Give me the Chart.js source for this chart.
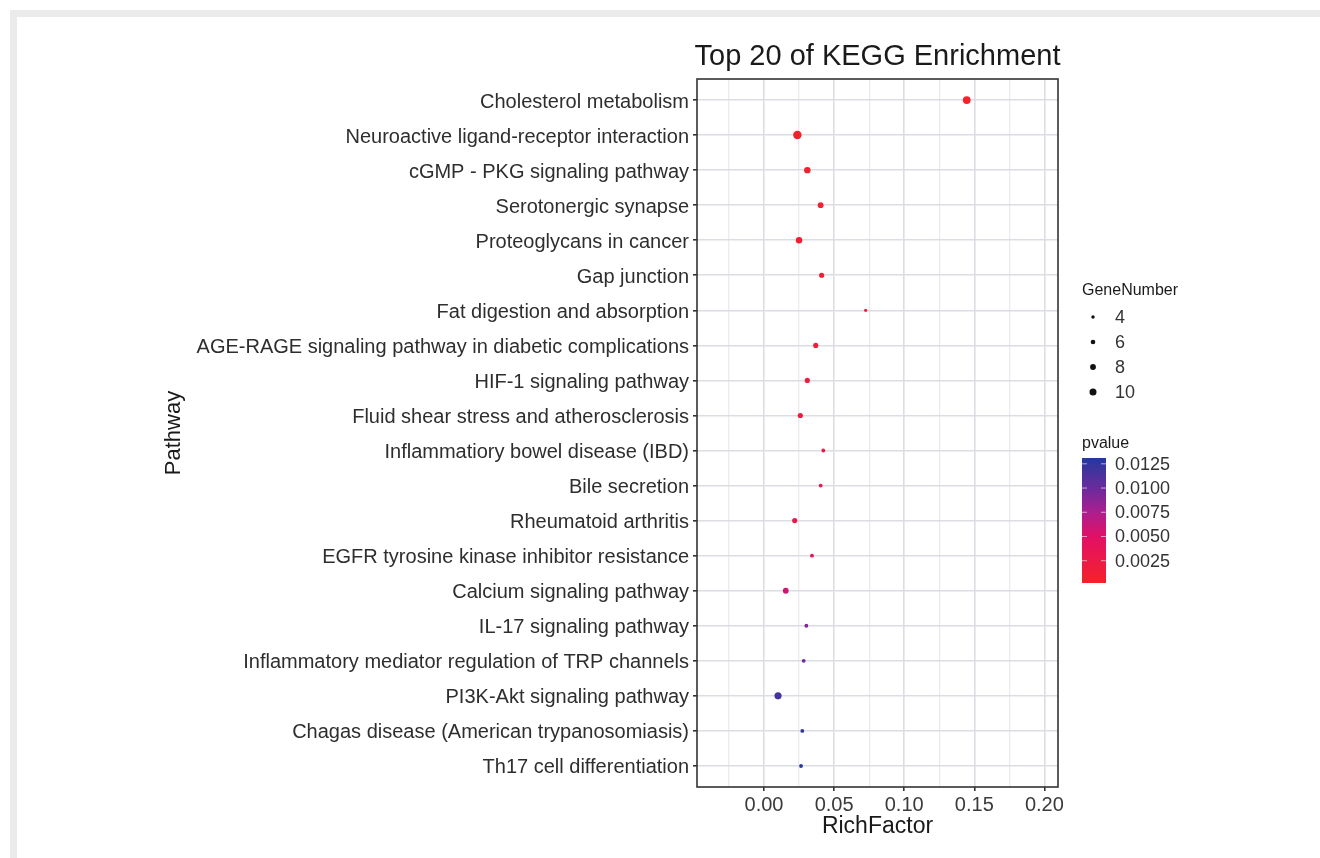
<!DOCTYPE html>
<html>
<head>
<meta charset="utf-8">
<title>Top 20 of KEGG Enrichment</title>
<script src="https://cdn.jsdelivr.net/npm/chart.js@4.4.1/dist/chart.umd.min.js"></script>
<style>
  html, body { margin: 0; padding: 0; background: #ffffff; }
  #frame {
    position: absolute; left: 10px; top: 10px; width: 1310px; height: 848px;
    border-top: 7px solid #ebebeb; border-left: 7px solid #ebebeb; box-sizing: border-box;
  }
  #wrap { position: absolute; left: 0; top: 0; width: 1320px; height: 858px; }
</style>
</head>
<body>
<div id="frame"></div>
<div id="wrap"><canvas id="chart" width="1320" height="858"></canvas></div>
<script>
// ---- data ----
const pathways = [
  "Cholesterol metabolism",
  "Neuroactive ligand-receptor interaction",
  "cGMP - PKG signaling pathway",
  "Serotonergic synapse",
  "Proteoglycans in cancer",
  "Gap junction",
  "Fat digestion and absorption",
  "AGE-RAGE signaling pathway in diabetic complications",
  "HIF-1 signaling pathway",
  "Fluid shear stress and atherosclerosis",
  "Inflammatiory bowel disease (IBD)",
  "Bile secretion",
  "Rheumatoid arthritis",
  "EGFR tyrosine kinase inhibitor resistance",
  "Calcium signaling pathway",
  "IL-17 signaling pathway",
  "Inflammatory mediator regulation of TRP channels",
  "PI3K-Akt signaling pathway",
  "Chagas disease (American trypanosomiasis)",
  "Th17 cell differentiation"
];
const richFactor = [0.1446, 0.0238, 0.0309, 0.0404, 0.0250, 0.0411, 0.0725, 0.0369, 0.0309, 0.0259,
                    0.0423, 0.0404, 0.0219, 0.0342, 0.0155, 0.0302, 0.0283, 0.0100, 0.0273, 0.0264];
const geneNumber = [10, 11, 8, 7, 8, 6, 3, 6, 6, 6, 4, 4, 6, 4, 7, 4, 4, 9, 4, 4];
const pValue = [0.0002, 0.0004, 0.0006, 0.0008, 0.0010, 0.0012, 0.0014, 0.0016, 0.0018, 0.0020,
                0.0024, 0.0027, 0.0031, 0.0040, 0.0058, 0.0090, 0.0097, 0.0116, 0.0124, 0.0131];
const xTickValues = [0.00, 0.05, 0.10, 0.15, 0.20];
const sizeBreaks = [4, 6, 8, 10];
const pBreaks = [0.0025, 0.0050, 0.0075, 0.0100, 0.0125];

// ---- styling helpers ----
const FONT = '"Liberation Sans", Arial, Helvetica, sans-serif';
// colour ramp from low p (red) through magenta and purple to high p (blue)
const RAMP = [
  [0.00, '#f5222a'],
  [0.37, '#e21066'],
  [0.57, '#aa1f90'],
  [0.76, '#6a2b9c'],
  [1.00, '#23399e']
];

function radiusFor(n) { return 0.33 * n + 0.6; }

function hexToRgb(h) {
  const v = parseInt(h.slice(1), 16);
  return [(v >> 16) & 255, (v >> 8) & 255, v & 255];
}
const RAMP_RGB = RAMP.map(([t, c]) => [t, hexToRgb(c)]);
const pMin = Math.min(...pValue), pMax = Math.max(...pValue);
function colorFor(p) {
  const t = Math.max(0, Math.min(1, (p - pMin) / (pMax - pMin)));
  let k = 0;
  while (k < RAMP_RGB.length - 2 && t > RAMP_RGB[k + 1][0]) k++;
  const [t0, c0] = RAMP_RGB[k], [t1, c1] = RAMP_RGB[k + 1];
  const f = (t - t0) / (t1 - t0);
  const c = c0.map((v, i) => Math.round(v + (c1[i] - v) * f));
  return `rgb(${c[0]},${c[1]},${c[2]})`;
}

// x ticks include unlabeled minor positions half-way between the labeled ones
const xStep = xTickValues[1] - xTickValues[0];
const xAllTicks = [xTickValues[0] - xStep / 2];
xTickValues.forEach((v, i) => {
  xAllTicks.push(v);
  if (i < xTickValues.length - 1) xAllTicks.push(v + xStep / 2);
});
const isMajor = v => xTickValues.some(t => Math.abs(t - v) < 1e-9);

// ---- panel frame, title and legends ----
const decorations = {
  id: 'decorations',
  afterDraw(chart) {
    const { ctx, chartArea: a } = chart;
    ctx.save();
    // panel border
    ctx.strokeStyle = '#333333';
    ctx.lineWidth = 1.6;
    ctx.strokeRect(a.left, a.top, a.right - a.left, a.bottom - a.top);

    // title
    ctx.fillStyle = '#1a1a1a';
    ctx.font = `29px ${FONT}`;
    ctx.textAlign = 'center';
    ctx.textBaseline = 'middle';
    ctx.fillText('Top 20 of KEGG Enrichment', (a.left + a.right) / 2, 57);

    // size legend
    const lx = 1082;
    ctx.textAlign = 'left';
    ctx.fillStyle = '#1a1a1a';
    ctx.font = `16px ${FONT}`;
    ctx.fillText('GeneNumber', lx, 291);
    ctx.font = `18px ${FONT}`;
    sizeBreaks.forEach((n, i) => {
      const y = 317 + i * 25;
      ctx.fillStyle = '#111111';
      ctx.beginPath();
      ctx.arc(lx + 11, y, radiusFor(n) * 0.9, 0, Math.PI * 2);
      ctx.fill();
      ctx.fillStyle = '#333333';
      ctx.fillText(String(n), lx + 33, y + 1);
    });

    // colour bar legend
    ctx.fillStyle = '#1a1a1a';
    ctx.font = `16px ${FONT}`;
    ctx.fillText('pvalue', lx, 444);
    const barTop = 458, barBot = 583, barW = 24;
    for (let y = barTop; y < barBot; y++) {
      const p = pMin + (pMax - pMin) * (barBot - (y + 0.5)) / (barBot - barTop);
      ctx.fillStyle = colorFor(p);
      ctx.fillRect(lx, y, barW, 1);
    }
    ctx.font = `18px ${FONT}`;
    pBreaks.forEach(p => {
      const y = barBot - (p - pMin) / (pMax - pMin) * (barBot - barTop);
      ctx.strokeStyle = 'rgba(255,255,255,0.6)';
      ctx.lineWidth = 1;
      ctx.beginPath();
      ctx.moveTo(lx, y); ctx.lineTo(lx + 5, y);
      ctx.moveTo(lx + barW - 5, y); ctx.lineTo(lx + barW, y);
      ctx.stroke();
      ctx.fillStyle = '#333333';
      ctx.fillText(p.toFixed(4), lx + 33, y + 1);
    });
    ctx.restore();
  }
};

const points = richFactor.map((x, i) => ({ x: x, y: i }));

new Chart(document.getElementById('chart'), {
  type: 'scatter',
  data: {
    datasets: [{
      label: 'GeneNumber',
      data: points,
      pointRadius: ctx => radiusFor(geneNumber[ctx.dataIndex]),
      pointHoverRadius: ctx => radiusFor(geneNumber[ctx.dataIndex]),
      backgroundColor: ctx => colorFor(pValue[ctx.dataIndex]),
      borderWidth: 0
    }]
  },
  options: {
    responsive: false,
    animation: false,
    devicePixelRatio: 1,
    layout: { padding: { left: 157, right: 262, top: 79, bottom: 14 } },
    plugins: {
      legend: { display: false },
      title: { display: false },
      tooltip: { enabled: false }
    },
    scales: {
      x: {
        type: 'linear',
        min: -0.0478,
        max: 0.2097,
        afterBuildTicks: scale => { scale.ticks = xAllTicks.map(v => ({ value: v })); },
        afterFit: scale => { scale.height = 57; },
        grid: {
          color: c => isMajor(c.tick.value) ? '#dcdde2' : '#eaebee',
          lineWidth: c => isMajor(c.tick.value) ? 1.6 : 1.3,
          tickColor: c => isMajor(c.tick.value) ? '#333333' : 'rgba(0,0,0,0)',
          tickLength: 4
        },
        border: { display: false },
        ticks: {
          autoSkip: false,
          maxRotation: 0,
          padding: 2,
          color: '#3a3a3a',
          font: { family: FONT, size: 20 },
          callback: v => isMajor(v) ? v.toFixed(2) : ''
        },
        title: {
          display: true,
          text: 'RichFactor',
          color: '#1a1a1a',
          font: { family: FONT, size: 23 },
          padding: { top: 4, bottom: 4 }
        }
      },
      y: {
        type: 'linear',
        reverse: true,
        min: -0.6,
        max: pathways.length - 0.4,
        afterBuildTicks: scale => { scale.ticks = pathways.map((_, i) => ({ value: i })); },
        afterFit: scale => { scale.width = 540; },
        grid: {
          color: '#dcdde2',
          lineWidth: 1.6,
          tickColor: '#333333',
          tickLength: 4
        },
        border: { display: false },
        ticks: {
          autoSkip: false,
          padding: 4,
          labelOffset: 2,
          color: '#2e2e2e',
          font: { family: FONT, size: 20 },
          callback: v => pathways[v]
        },
        title: {
          display: true,
          text: 'Pathway',
          color: '#1a1a1a',
          font: { family: FONT, size: 22 },
          padding: { top: 4, bottom: 4 }
        }
      }
    }
  },
  plugins: [decorations]
});
</script>
</body>
</html>
